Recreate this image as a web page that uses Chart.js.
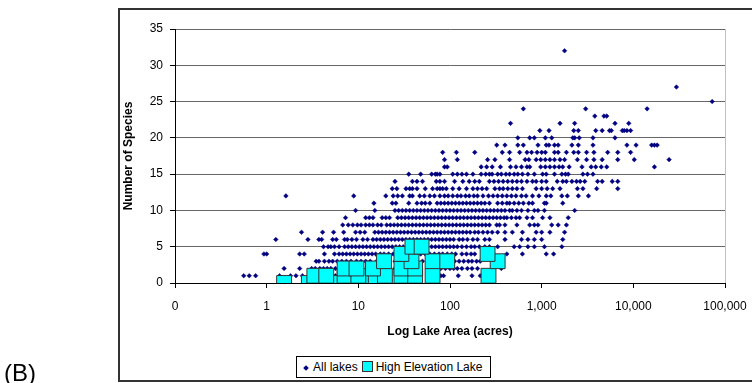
<!DOCTYPE html>
<html>
<head>
<meta charset="utf-8">
<script src="https://cdn.jsdelivr.net/npm/chart.js@4"></script>
<style>
  body { margin: 0; background: #fff; font-family: "Liberation Sans", Arial, sans-serif; }
  #wrap { position: relative; width: 752px; height: 383px; overflow: hidden; }
  #frame { position: absolute; left: 118px; top: 8px; width: 700px; height: 370px; border: 2px solid #333; }
  #chart { position: absolute; left: 0; top: 0; }
  #tag { position: absolute; left: 4px; top: 359px; font-size: 24px; }
  #legend { position: absolute; left: 296px; top: 356px; height: 20px; padding: 0 8px 0 4px; border: 1px solid #000;
            background: #fff; font-size: 12px; line-height: 20px; white-space: nowrap; }
  .dia { display: inline-block; width: 4px; height: 4px; background: #000080; transform: rotate(45deg); margin: 0 5px 1px 3px; }
  .sq { display: inline-block; width: 9px; height: 9px; background: #00ffff; border: 1px solid #333; margin: 0 3px -1px 4px; }
</style>
</head>
<body>
<div id="wrap">
  <div id="frame"></div>
  <canvas id="chart" width="752" height="383"></canvas>
  <div id="tag">(B)</div>
  <div id="legend"><span class="dia"></span>All lakes<span class="sq"></span>High Elevation Lake</div>
</div>
<script>
// log10 of lake area (acres) for every lake, grouped by number of species
const sp1 = [-0.25, -0.19, -0.12, 0.14, 0.26, 0.32, 0.39, 0.55, 0.75, 1.05, 1.25, 1.30, 1.78, 1.84, 1.90, 1.93, 2.09, 2.24, 2.33];
const sp2 = [0.19, 0.36, 0.49, 0.53, 0.58, 0.62, 0.66, 0.70, 0.75, 0.80, 0.90, 1.00, 1.15, 1.40, 1.50, 1.85, 1.90, 1.95, 2.00, 2.04, 2.08, 2.13, 2.19, 2.24, 2.30, 2.56];
const sp3 = [0.54, 0.57, 0.63, 0.68, 0.72, 0.77, 0.82, 0.87, 0.92, 0.98, 1.03, 1.08, 1.13, 1.20, 1.30, 1.40, 1.50, 1.60, 1.70, 1.80, 1.85, 1.90, 1.95, 2.00, 2.05, 2.10, 2.15, 2.20, 2.24, 2.29, 2.33];
const sp4 = [-0.03, 0.00, 0.36, 0.41, 0.63, 0.74, 0.79, 0.83, 0.87, 0.91, 0.95, 0.99, 1.03, 1.07, 1.11, 1.15, 1.19, 1.24, 1.28, 1.33, 1.38, 1.43, 1.48, 1.53, 1.58, 1.63, 1.68, 1.73, 1.78, 1.83, 1.88, 1.92, 1.97, 2.02, 2.06, 2.13, 2.18, 2.23, 2.27, 2.62, 2.79, 3.05, 3.13];
const sp5 = [0.62, 0.67, 0.70, 0.74, 0.79, 0.85, 0.89, 0.93, 0.97, 1.01, 1.05, 1.09, 1.13, 1.17, 1.21, 1.25, 1.29, 1.33, 1.37, 1.41, 1.45, 1.49, 1.53, 1.58, 1.70, 1.75, 1.80, 1.84, 1.88, 1.92, 1.96, 2.00, 2.04, 2.08, 2.13, 2.18, 2.23, 2.27, 2.32, 2.38, 2.43, 2.52, 2.70, 2.76, 2.85, 2.92, 3.03, 3.22];
const sp6 = [0.10, 0.45, 0.57, 0.60, 0.72, 0.76, 0.85, 0.88, 0.93, 0.98, 1.05, 1.10, 1.16, 1.20, 1.24, 1.28, 1.32, 1.36, 1.40, 1.44, 1.48, 1.52, 1.56, 1.60, 1.64, 1.68, 1.72, 1.76, 1.80, 1.84, 1.88, 1.92, 1.96, 2.00, 2.04, 2.10, 2.14, 2.19, 2.25, 2.30, 2.38, 2.43, 2.60, 2.78, 2.85, 2.92, 3.00, 3.23];
const sp7 = [0.38, 0.61, 0.73, 0.84, 0.97, 1.02, 1.07, 1.18, 1.22, 1.26, 1.30, 1.34, 1.38, 1.42, 1.46, 1.50, 1.54, 1.58, 1.62, 1.66, 1.70, 1.74, 1.78, 1.82, 1.86, 1.90, 1.94, 1.98, 2.02, 2.06, 2.10, 2.14, 2.18, 2.22, 2.27, 2.31, 2.36, 2.41, 2.46, 2.52, 2.60, 2.68, 2.79, 2.94, 3.00, 3.09, 3.25];
const sp8 = [0.83, 0.89, 0.94, 0.99, 1.03, 1.08, 1.12, 1.16, 1.21, 1.25, 1.31, 1.35, 1.39, 1.43, 1.47, 1.51, 1.55, 1.59, 1.63, 1.67, 1.71, 1.75, 1.79, 1.83, 1.87, 1.91, 1.95, 1.99, 2.03, 2.07, 2.11, 2.15, 2.19, 2.23, 2.27, 2.31, 2.35, 2.39, 2.43, 2.51, 2.54, 2.60, 2.73, 2.87, 2.92, 2.96, 3.11, 3.18, 3.27];
const sp9 = [0.86, 1.08, 1.12, 1.16, 1.26, 1.30, 1.34, 1.43, 1.47, 1.51, 1.55, 1.59, 1.63, 1.67, 1.71, 1.75, 1.79, 1.83, 1.87, 1.91, 1.95, 1.99, 2.03, 2.07, 2.11, 2.15, 2.19, 2.23, 2.27, 2.31, 2.35, 2.39, 2.43, 2.47, 2.51, 2.55, 2.59, 2.62, 2.67, 2.72, 2.76, 2.84, 2.90, 3.01, 3.09, 3.29];
const sp10 = [0.97, 1.18, 1.40, 1.44, 1.48, 1.52, 1.56, 1.60, 1.64, 1.68, 1.72, 1.76, 1.80, 1.84, 1.88, 1.92, 1.96, 2.00, 2.04, 2.08, 2.12, 2.16, 2.20, 2.24, 2.28, 2.32, 2.36, 2.40, 2.44, 2.48, 2.52, 2.56, 2.60, 2.65, 2.68, 2.73, 2.78, 2.85, 2.92, 2.96, 3.03, 3.36];
const sp11 = [1.17, 1.37, 1.41, 1.55, 1.64, 1.69, 1.73, 1.78, 1.86, 1.90, 1.94, 1.98, 2.02, 2.06, 2.10, 2.14, 2.18, 2.22, 2.26, 2.30, 2.34, 2.38, 2.43, 2.52, 2.57, 2.62, 2.65, 2.70, 2.75, 2.80, 2.86, 2.90, 3.03, 3.05, 3.23];
const sp12 = [0.21, 0.95, 1.30, 1.38, 1.43, 1.48, 1.56, 1.59, 1.67, 1.72, 1.78, 1.83, 1.89, 1.94, 1.98, 2.03, 2.08, 2.12, 2.17, 2.21, 2.26, 2.30, 2.36, 2.42, 2.47, 2.52, 2.57, 2.62, 2.67, 2.72, 2.78, 2.83, 2.90, 2.97, 3.05, 3.10, 3.22, 3.28, 3.40, 3.51];
const sp13 = [1.37, 1.42, 1.52, 1.56, 1.59, 1.64, 1.73, 1.81, 1.86, 1.89, 1.92, 1.96, 2.03, 2.10, 2.18, 2.25, 2.30, 2.35, 2.40, 2.49, 2.54, 2.58, 2.63, 2.68, 2.73, 2.79, 2.94, 3.00, 3.06, 3.12, 3.20, 3.39, 3.45, 3.60, 3.83];
const sp14 = [1.40, 1.59, 1.64, 1.70, 1.85, 1.89, 1.94, 2.05, 2.14, 2.21, 2.27, 2.32, 2.43, 2.48, 2.53, 2.58, 2.63, 2.68, 2.73, 2.78, 2.84, 2.90, 2.94, 3.00, 3.05, 3.17, 3.23, 3.27, 3.33, 3.38, 3.42, 3.47, 3.61, 3.66, 3.77, 3.83];
const sp15 = [1.55, 1.68, 1.80, 1.84, 1.86, 1.89, 2.03, 2.08, 2.13, 2.18, 2.25, 2.34, 2.39, 2.43, 2.46, 2.52, 2.56, 2.61, 2.65, 2.70, 2.74, 2.79, 2.85, 2.92, 3.01, 3.05, 3.14, 3.22, 3.26, 3.29, 3.45, 3.50, 3.56];
const sp16 = [1.94, 1.97, 2.34, 2.40, 2.46, 2.55, 2.66, 2.72, 2.78, 2.84, 2.87, 2.99, 3.04, 3.09, 3.14, 3.19, 3.23, 3.30, 3.44, 3.54, 3.59, 3.65, 3.71, 4.23];
const sp17 = [1.94, 2.08, 2.41, 2.49, 2.65, 2.82, 2.86, 2.94, 2.99, 3.04, 3.09, 3.14, 3.20, 3.25, 3.39, 3.49, 3.57, 3.66, 3.83, 4.01, 4.39];
const sp18 = [1.92, 2.07, 2.27, 2.57, 2.65, 2.76, 2.84, 2.89, 2.95, 3.00, 3.04, 3.14, 3.18, 3.27, 3.35, 3.40, 3.49, 3.57, 3.72, 3.83, 3.97];
const sp19 = [2.51, 2.60, 2.74, 2.80, 2.96, 3.05, 3.08, 3.14, 3.18, 3.33, 3.40, 3.56, 3.93, 4.03, 4.20, 4.23, 4.26];
const sp20 = [2.74, 2.87, 2.92, 3.04, 3.11, 3.34, 3.36, 3.41, 3.56, 3.80];
const sp21 = [2.98, 3.08, 3.35, 3.40, 3.59, 3.66, 3.74, 3.76, 3.88, 3.90, 3.93, 3.97];
const sp22 = [2.66, 3.20, 3.36, 3.80, 3.95];
const sp23 = [3.58, 3.68, 3.71];
const sp24 = [2.80, 3.48, 4.15];
const sp25 = [4.86];
const sp27 = [4.47];
const sp32 = [3.25];

// high elevation lakes: log10 area and species count
const highLogArea = [0.19, 0.46, 0.57, 0.72, 1.15, 1.19, 0.52, 0.65, 0.85, 1.00, 1.29, 1.47, 1.62, 1.81, 2.42, 0.85, 0.98, 1.16, 1.47, 1.62, 1.28, 1.58, 1.81, 1.97, 2.52, 1.47, 2.41, 1.59, 1.69];
const highSpecies = [0, 0, 0, 0, 0, 0, 1, 1, 1, 1, 1, 1, 1, 1, 1, 2, 2, 2, 2, 2, 3, 3, 3, 3, 3, 4, 4, 5, 5];

const xTickLabels = ["0", "1", "10", "100", "1,000", "10,000", "100,000"];

const rows = [[1, sp1], [2, sp2], [3, sp3], [4, sp4], [5, sp5], [6, sp6], [7, sp7], [8, sp8], [9, sp9], [10, sp10],
  [11, sp11], [12, sp12], [13, sp13], [14, sp14], [15, sp15], [16, sp16], [17, sp17], [18, sp18], [19, sp19],
  [20, sp20], [21, sp21], [22, sp22], [23, sp23], [24, sp24], [25, sp25], [27, sp27], [32, sp32]];

const allPts = [];
rows.forEach(([n, list]) => list.forEach((a) => allPts.push({ x: a, y: n })));
const highPts = highLogArea.map((a, i) => ({ x: a, y: highSpecies[i] }));

Chart.defaults.font.family = "'Liberation Sans', Arial, sans-serif";
Chart.defaults.color = "#000";

new Chart(document.getElementById("chart"), {
  type: "scatter",
  data: {
    datasets: [
      {
        label: "All lakes",
        data: allPts,
        order: 1,
        pointStyle: "rectRot",
        pointRadius: 2.3,
        backgroundColor: "#000080",
        borderColor: "#000080",
        borderWidth: 0.5,
      },
      {
        label: "High Elevation Lake",
        data: highPts,
        order: 0,
        pointStyle: "rect",
        pointRadius: 10.5,
        backgroundColor: "#00ffff",
        borderColor: "#333",
        borderWidth: 1,
      },
    ],
  },
  options: {
    responsive: false,
    animation: false,
    layout: { padding: { left: 121, right: 27, top: 29, bottom: 44 } },
    plugins: { legend: { display: false }, tooltip: { enabled: false } },
    scales: {
      x: {
        type: "linear",
        min: -1,
        max: 5,
        // fixed box so the plot area lands where the original's does
        afterFit: (s) => { s.height = 56; s.paddingLeft = 0; s.paddingRight = 0; },
        afterBuildTicks: (s) => { s.ticks = xTickLabels.map((_, i) => ({ value: i - 1 })); },
        ticks: { callback: (v, i) => xTickLabels[i], font: { size: 12 }, padding: 11, maxRotation: 0, autoSkip: false },
        grid: {
          color: (c) => (c.index === 6 ? "#c0c0c0" : "rgba(0,0,0,0)"),
          tickColor: "#000",
          tickLength: 5,
        },
        border: { color: "#000", width: 1 },
        title: { display: true, text: "Log Lake Area (acres)", font: { size: 12, weight: "bold" }, padding: 0 },
      },
      y: {
        min: 0,
        max: 35,
        afterFit: (s) => { s.width = 54; s.paddingTop = 0; s.paddingBottom = 0; },
        ticks: { stepSize: 5, font: { size: 12 }, padding: 7 },
        grid: { color: "#666", tickColor: "#000", tickLength: 5 },
        border: { color: "#000", width: 1 },
        title: { display: true, text: "Number of Species", font: { size: 12, weight: "bold" }, padding: 0 },
      },
    },
  },
});
</script>
</body>
</html>
